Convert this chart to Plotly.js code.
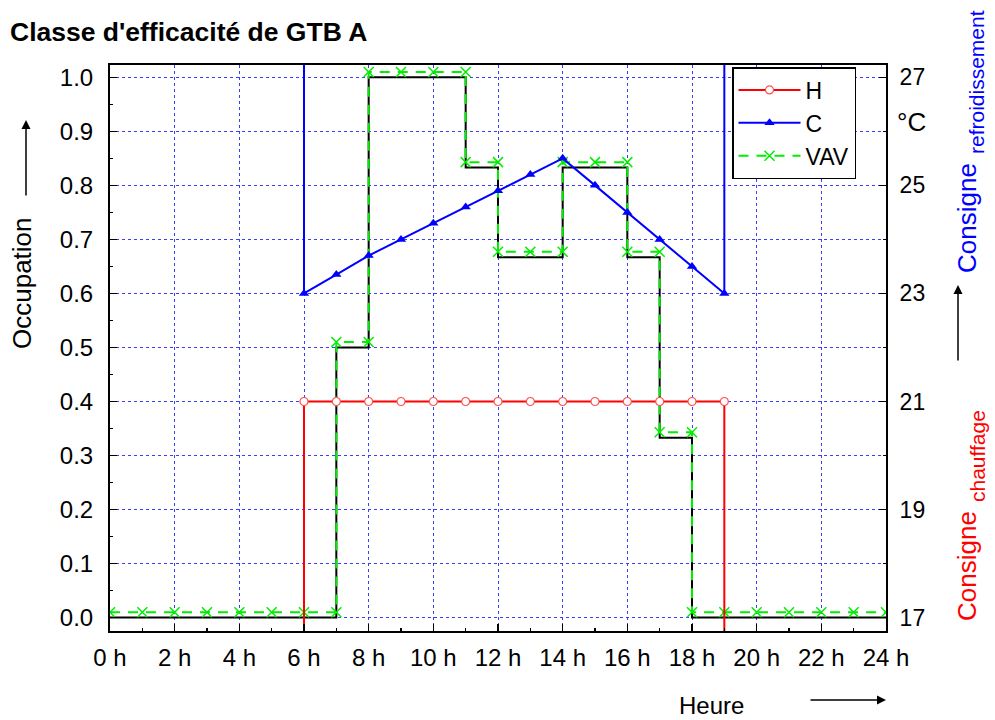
<!DOCTYPE html>
<html>
<head>
<meta charset="utf-8">
<script src="https://cdn.plot.ly/plotly-3.0.1.min.js"></script>
<style>
  html, body { margin: 0; padding: 0; background: #ffffff; }
  #chart { width: 995px; height: 720px; }
</style>
</head>
<body>
<div id="chart"></div>
<script>
// hours of the day, occupancy profile (black step line)
const hours = [0, 1, 2, 3, 4, 5, 6, 7, 8, 9, 10, 11, 12, 13, 14, 15, 16, 17, 18, 19, 20, 21, 22, 23, 24];
const occupation = [0, 0, 0, 0, 0, 0, 0, 0.5, 1.0, 1.0, 1.0, 0.833, 0.667, 0.667, 0.833, 0.833, 0.667, 0.333, 0, 0, 0, 0, 0, 0, 0];

// VAV airflow (green dashed, drawn as explicit steps)
const vavHours = [0, 1, 2, 3, 4, 5, 6, 7, 7, 8, 8, 9, 10, 11, 11, 12, 12, 13, 14, 14, 15, 16, 16, 17, 17, 18, 18, 19, 20, 21, 22, 23, 24];
const vavValues = [0.01, 0.01, 0.01, 0.01, 0.01, 0.01, 0.01, 0.01, 0.51, 0.51, 1.01, 1.01, 1.01, 1.01, 0.843, 0.843, 0.677, 0.677, 0.677, 0.843, 0.843, 0.843, 0.677, 0.677, 0.343, 0.343, 0.01, 0.01, 0.01, 0.01, 0.01, 0.01, 0.01];

// heating setpoint H (°C), off outside 6h-19h
const heatHours = [6, 6, 7, 8, 9, 10, 11, 12, 13, 14, 15, 16, 17, 18, 19, 19];
const heatSetpoint = [15, 21, 21, 21, 21, 21, 21, 21, 21, 21, 21, 21, 21, 21, 21, 15];

// cooling setpoint C (°C), off outside 6h-19h
const coolHours = [6, 6, 7, 8, 9, 10, 11, 12, 13, 14, 15, 16, 17, 18, 19, 19];
const coolSetpoint = [30, 23.0, 23.35, 23.7, 24.0, 24.3, 24.6, 24.9, 25.2, 25.5, 25.0, 24.5, 24.0, 23.5, 23.0, 30];

// axis ticks
const hourTicks = [0, 2, 4, 6, 8, 10, 12, 14, 16, 18, 20, 22, 24];
const hourLabels = ["0 h", "2 h", "4 h", "6 h", "8 h", "10 h", "12 h", "14 h", "16 h", "18 h", "20 h", "22 h", "24 h"];
const tempTicks = [17, 19, 21, 23, 25, 27];

const FONT = "Liberation Sans, Arial, Helvetica, sans-serif";
const W = 995, H = 720;
const M = { l: 110, r: 109, t: 65, b: 89 };

// pixel -> paper helpers for the free-standing labels
const px = (x) => (x - M.l) / (W - M.l - M.r);
const py = (y) => (H - M.b - y) / (H - M.t - M.b);

const gridStyle = { showgrid: true, gridcolor: "#3c3cff", griddash: "dot", gridwidth: 1 };
const noMinorGrid = { showgrid: false };

const data = [
  {
    x: hours, y: occupation, type: "scatter", mode: "lines",
    line: { color: "#000000", width: 2, shape: "hv" },
    showlegend: false, hoverinfo: "skip",
  },
  {
    name: "VAV", legendrank: 3,
    x: vavHours, y: vavValues, type: "scatter", mode: "lines+markers",
    line: { color: "#00ee00", width: 2, dash: "10px,8px" },
    marker: { symbol: "x-thin", size: 10, line: { color: "#00ee00", width: 1.5 } },
  },
  {
    name: "H", legendrank: 1, yaxis: "y2",
    x: heatHours, y: heatSetpoint, type: "scatter", mode: "lines+markers",
    line: { color: "#ff0000", width: 2 },
    marker: { symbol: "circle", size: 8, color: "#ffffff", line: { color: "#ff5050", width: 1.2 } },
  },
  {
    name: "C", legendrank: 2, yaxis: "y2",
    x: coolHours, y: coolSetpoint, type: "scatter", mode: "lines+markers",
    line: { color: "#0000ff", width: 2 },
    marker: { symbol: "triangle-up", size: 9, color: "#0000ff" },
  },
];

const arrow = (x, y, ax, ay) => ({
  xref: "paper", yref: "paper", x: px(x), y: py(y), ax: ax, ay: ay, text: "",
  showarrow: true, arrowhead: 2, arrowsize: 1.2, arrowwidth: 1.5, arrowcolor: "#000000",
});
const label = (text, x, y, size, color, angle) => ({
  xref: "paper", yref: "paper", x: px(x), y: py(y), text: text, showarrow: false,
  xanchor: "center", yanchor: "middle", textangle: angle || 0, borderpad: 0,
  font: { family: FONT, size: size, color: color || "#000000" },
});

const layout = {
  width: W, height: H,
  margin: M,
  paper_bgcolor: "#ffffff",
  plot_bgcolor: "#ffffff",
  font: { family: FONT, size: 24, color: "#000000" },
  showlegend: true,
  legend: {
    x: px(732), y: py(67), xanchor: "left", yanchor: "top",
    bgcolor: "#ffffff", bordercolor: "#000000", borderwidth: 1.5,
    font: { family: FONT, size: 23 }, itemwidth: 62, traceorder: "normal",
  },
  xaxis: {
    range: [0, 24], tickmode: "array", tickvals: hourTicks, ticktext: hourLabels,
    ticks: "inside", ticklen: 7, tickwidth: 1.5, tickcolor: "#000000",
    minor: { dtick: 1, ticks: "inside", ticklen: 3, tickwidth: 1.5, tickcolor: "#000000", ...noMinorGrid },
    showline: true, linewidth: 2, linecolor: "#000000", mirror: true,
    zeroline: false, ticklabelstandoff: 4,
    ...gridStyle,
  },
  yaxis: {
    range: [-0.0248, 1.0228], tick0: 0, dtick: 0.1, tickformat: ".1f",
    ticks: "inside", ticklen: 7, tickwidth: 1.5, tickcolor: "#000000",
    minor: { dtick: 0.05, ticks: "inside", ticklen: 3, tickwidth: 1.5, tickcolor: "#000000", ...noMinorGrid },
    showline: true, linewidth: 2, linecolor: "#000000",
    zeroline: false, ticklabelstandoff: 10,
    ...gridStyle,
  },
  yaxis2: {
    overlaying: "y", side: "right",
    range: [16.752, 27.228], tickmode: "array", tickvals: tempTicks,
    ticks: "inside", ticklen: 7, tickwidth: 1.5, tickcolor: "#000000",
    minor: { dtick: 1, tick0: 17, ticks: "inside", ticklen: 3, tickwidth: 1.5, tickcolor: "#000000", ...noMinorGrid },
    showline: true, linewidth: 2, linecolor: "#000000",
    showgrid: false, zeroline: false, ticklabelstandoff: 7,
    tickfont: { family: FONT, size: 23 },
  },
  annotations: [
    {
      xref: "paper", yref: "paper", x: px(8), y: py(32), xanchor: "left", yanchor: "middle",
      text: "<b>Classe d'efficacité de GTB A</b>", showarrow: false,
      font: { family: FONT, size: 26.5, color: "#000000" },
    },
    label("°C", 911, 122, 26),
    label("Occupation", 22, 283, 26, "#000000", -90),
    arrow(26, 120, 0, 77),
    label("Heure", 711, 705, 24),
    arrow(886, 700, -77, 0),
    label("Consigne", 967, 218, 26, "#0000ff", -90),
    label("refroidissement", 976, 82, 21, "#0000ff", -90),
    arrow(958, 285, 0, 77),
    label("Consigne", 967, 566, 26, "#ff0000", -90),
    label("chauffage", 977, 456, 21, "#ff0000", -90),
  ],
};

Plotly.newPlot("chart", data, layout, { displayModeBar: false, staticPlot: true });
</script>
</body>
</html>
